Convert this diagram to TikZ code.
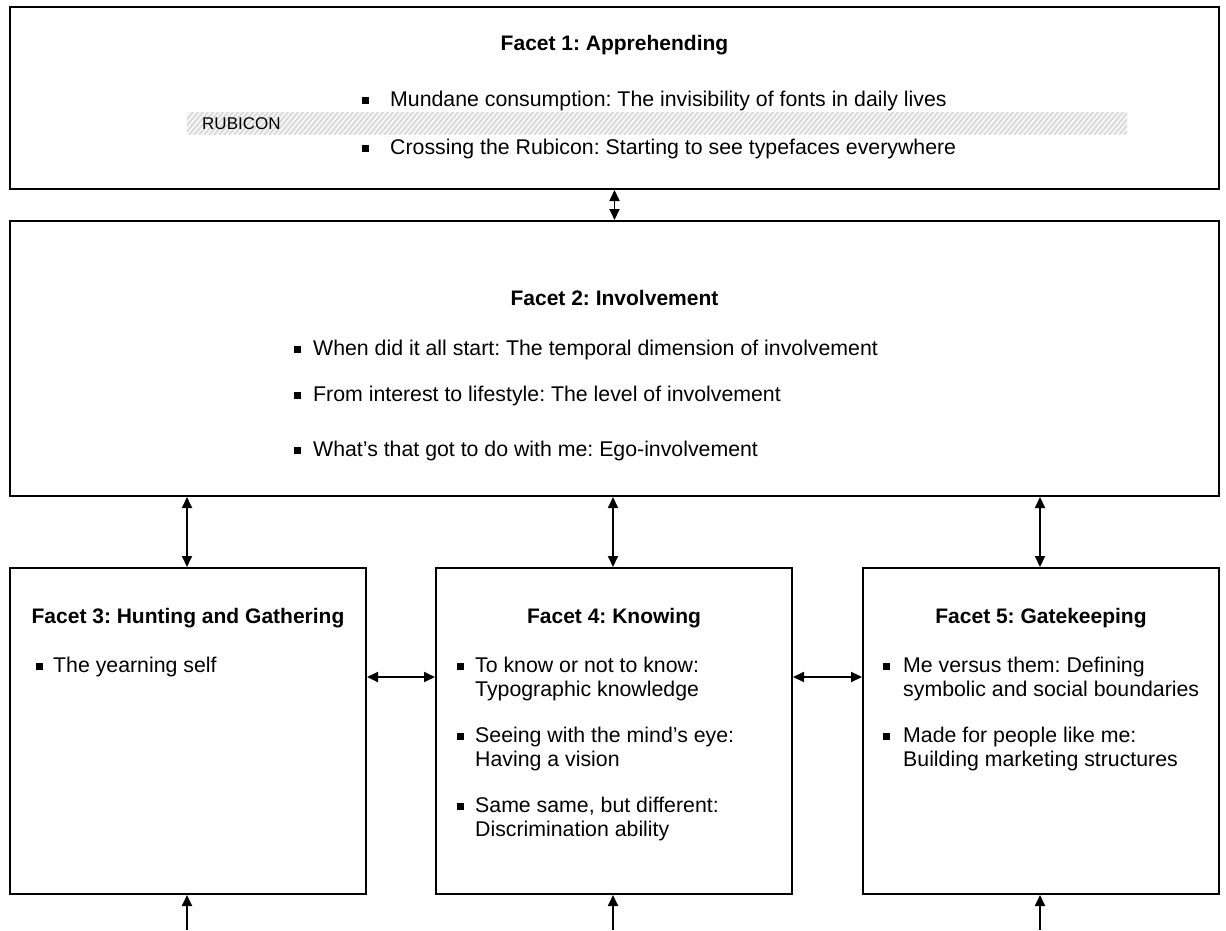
\documentclass[tikz,border=0pt]{standalone}
\usepackage{fontspec}
\setmainfont{Liberation Sans}
\frenchspacing
\usetikzlibrary{arrows.meta}
\newcommand{\sqbullet}{\raisebox{2.6pt}{\rule{6.5pt}{6.5pt}}}
\begin{document}
\begin{tikzpicture}[x=1pt,y=-1pt,
  box/.style={draw=black, line width=2pt, fill=white, inner sep=0pt},
  tip/.style={},
  link/.style={line width=1.8pt, {Triangle[length=11pt,width=10pt]}-{Triangle[length=11pt,width=10pt]}},
  uplink/.style={line width=1.8pt, -{Triangle[length=11pt,width=10pt]}},
  title/.style={font=\fontsize{21}{24}\selectfont\bfseries, anchor=center, inner sep=0pt},
  item/.style={font=\fontsize{21.3}{24}\selectfont, anchor=base west, inner sep=0pt, align=left}
]
\useasboundingbox (0,0) rectangle (1226,930);

% facet boxes
\node[box, minimum width=1209pt, minimum height=182pt] (b1) at (614.5,98) {};
\node[box, minimum width=1209pt, minimum height=275pt] (b2) at (614.5,358.5) {};
\node[box, minimum width=356pt, minimum height=326pt] (b3) at (188,731) {};
\node[box, minimum width=356pt, minimum height=326pt] (b4) at (614,731) {};
\node[box, minimum width=356pt, minimum height=326pt] (b5) at (1041,731) {};

% rubicon band
\begin{scope}
  \clip (187,112) rectangle (1127,134);
  \fill[gray!8] (187,112) rectangle (1127,134);
  \foreach \i in {0,5,...,970}
    \draw[gray!32, line width=1.4pt] (170+\i,140) -- (170+\i+28,106);
\end{scope}
\node[font=\fontsize{17}{17}\selectfont, anchor=base west, inner sep=0pt] (rub) at (202,129.5) {RUBICON};

% facet 1
\node[title] (t1) at (614.5,45) {Facet 1: Apprehending};
\node[item] (i11) at (362,106.5) {\makebox[28pt][l]{\sqbullet}Mundane consumption: The invisibility of fonts in daily lives};
\node[item] (i12) at (362,154.5) {\makebox[28pt][l]{\sqbullet}Crossing the Rubicon: Starting to see typefaces everywhere};

% facet 2
\node[title] (t2) at (614.5,298) {Facet 2: Involvement};
\node[item] (i21) at (294,355.5) {\makebox[19pt][l]{\sqbullet}When did it all start: The temporal dimension of involvement};
\node[item] (i22) at (294,401.5) {\makebox[19pt][l]{\sqbullet}From interest to lifestyle: The level of involvement};
\node[item] (i23) at (294,456.5) {\makebox[19pt][l]{\sqbullet}What’s that got to do with me: Ego-involvement};

% facet 3
\node[title] (t3) at (188,618) {Facet 3: Hunting and Gathering};
\node[item] (i31) at (36,672.5) {\makebox[17pt][l]{\sqbullet}The yearning self};

% facet 4 (two-line items: base is the second line)
\node[title] (t4) at (614,618) {Facet 4: Knowing};
\node[item] (i41) at (457,696.5) {\makebox[18pt][l]{\sqbullet}To know or not to know:\\\hspace*{18pt}Typographic knowledge};
\node[item] (i42) at (457,766.5) {\makebox[18pt][l]{\sqbullet}Seeing with the mind’s eye:\\\hspace*{18pt}Having a vision};
\node[item] (i43) at (457,836.5) {\makebox[18pt][l]{\sqbullet}Same same, but different:\\\hspace*{18pt}Discrimination ability};

% facet 5
\node[title] (t5) at (1041,618) {Facet 5: Gatekeeping};
\node[item] (i51) at (883,696.5) {\makebox[20pt][l]{\sqbullet}Me versus them: Defining\\\hspace*{20pt}symbolic and social boundaries};
\node[item] (i52) at (883,766.5) {\makebox[20pt][l]{\sqbullet}Made for people like me:\\\hspace*{20pt}Building marketing structures};

% connectors
\coordinate (hy) at (0,677);
\coordinate (u3) at (187,930);
\coordinate (u4) at (613,930);
\coordinate (u5) at (1040,930);
\draw[link] (b1.south) -- (b2.north);
\draw[link] (b2.south -| u3) -- (b3.north -| u3);
\draw[link] (b2.south -| u4) -- (b4.north -| u4);
\draw[link] (b2.south -| u5) -- (b5.north -| u5);
\draw[link] (b3.east |- hy) -- (b4.west |- hy);
\draw[link] (b4.east |- hy) -- (b5.west |- hy);
\draw[uplink] (u3) -- (b3.south -| u3);
\draw[uplink] (u4) -- (b4.south -| u4);
\draw[uplink] (u5) -- (b5.south -| u5);
\end{tikzpicture}
\end{document}
